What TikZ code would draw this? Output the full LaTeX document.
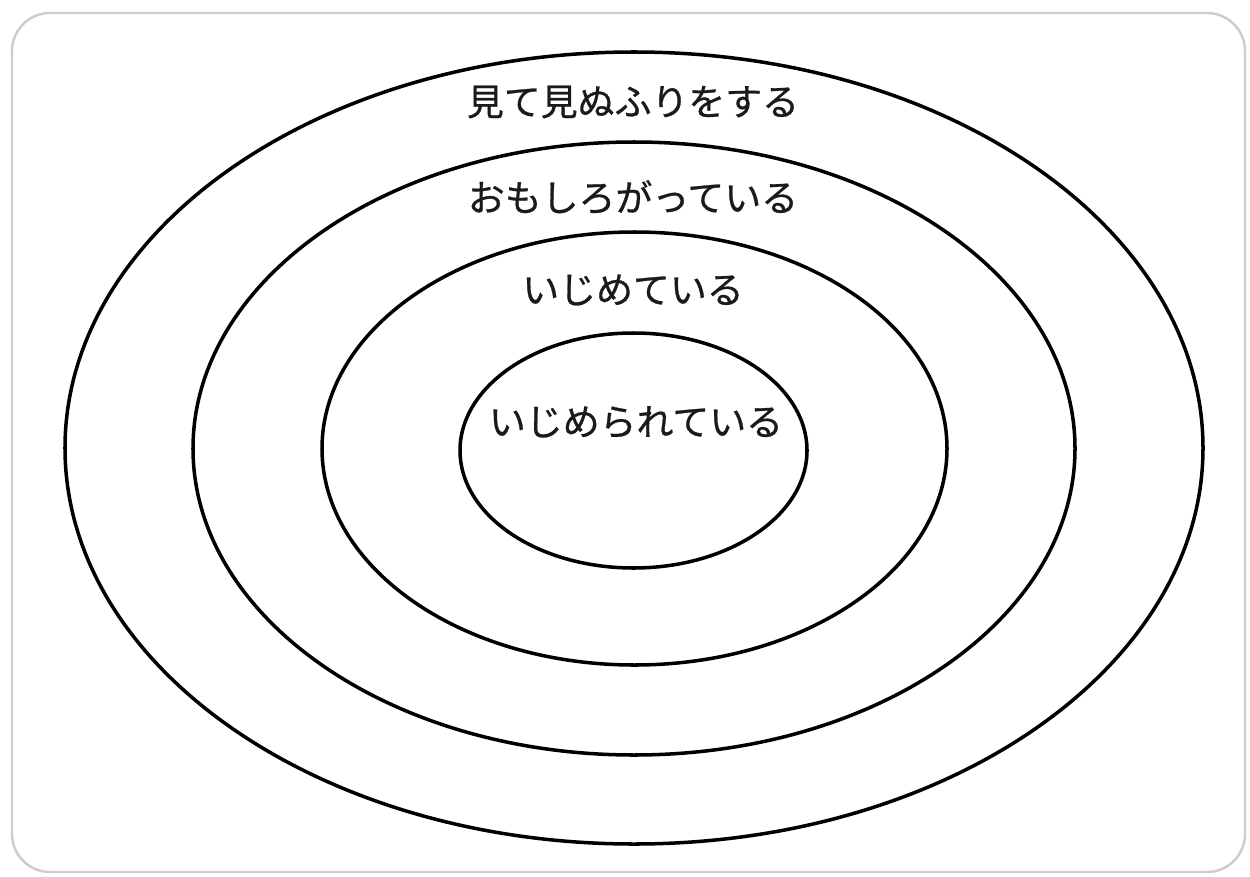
\documentclass[tikz,border=0pt]{standalone}
\usepackage{fontspec}
\usepackage{tikz}
\usetikzlibrary{shapes.geometric}
\newfontfamily\jpfont{Noto Sans CJK JP}[FakeBold=0.7]
\definecolor{frgray}{RGB}{205,205,205}
\definecolor{txdark}{RGB}{25,25,30}

\begin{document}
\begin{tikzpicture}[
    ring/.style={
        draw,
        ellipse,
        line width=2pt,
        inner sep=0pt
    },
    ringlabel/.style={
        font=\jpfont\fontsize{21}{25}\selectfont,
        text=txdark,
        inner sep=0pt
    }
]

\useasboundingbox (0,0) rectangle (25,-17.52);

% Outer frame
\draw[
    frgray,
    line width=1.4pt,
    rounded corners=0.76cm
]
(0.24,-0.26) rectangle (24.9,-17.44);

% Rings
\node[
    ring,
    minimum width=22.76cm,
    minimum height=15.84cm
] (watch)
at (12.68,-8.96) {};

\node[
    ring,
    minimum width=17.64cm,
    minimum height=12.26cm
] (amuse)
at (12.68,-8.97) {};

\node[
    ring,
    minimum width=12.5cm,
    minimum height=8.66cm
] (bully)
at (12.69,-8.97) {};

\node[
    ring,
    minimum width=6.94cm,
    minimum height=4.7cm
] (victim)
at (12.67,-9.01) {};

% Labels
\node[ringlabel] (watchlbl)
at (12.66,-2.04)
{見て見ぬふりをする};

\node[ringlabel] (amuselbl)
at (12.66,-3.94)
{おもしろがっている};

\node[ringlabel] (bullylbl)
at (12.66,-5.80)
{いじめている};

\node[ringlabel] (victimlbl)
at (12.72,-8.44)
{いじめられている};

\end{tikzpicture}
\end{document}
